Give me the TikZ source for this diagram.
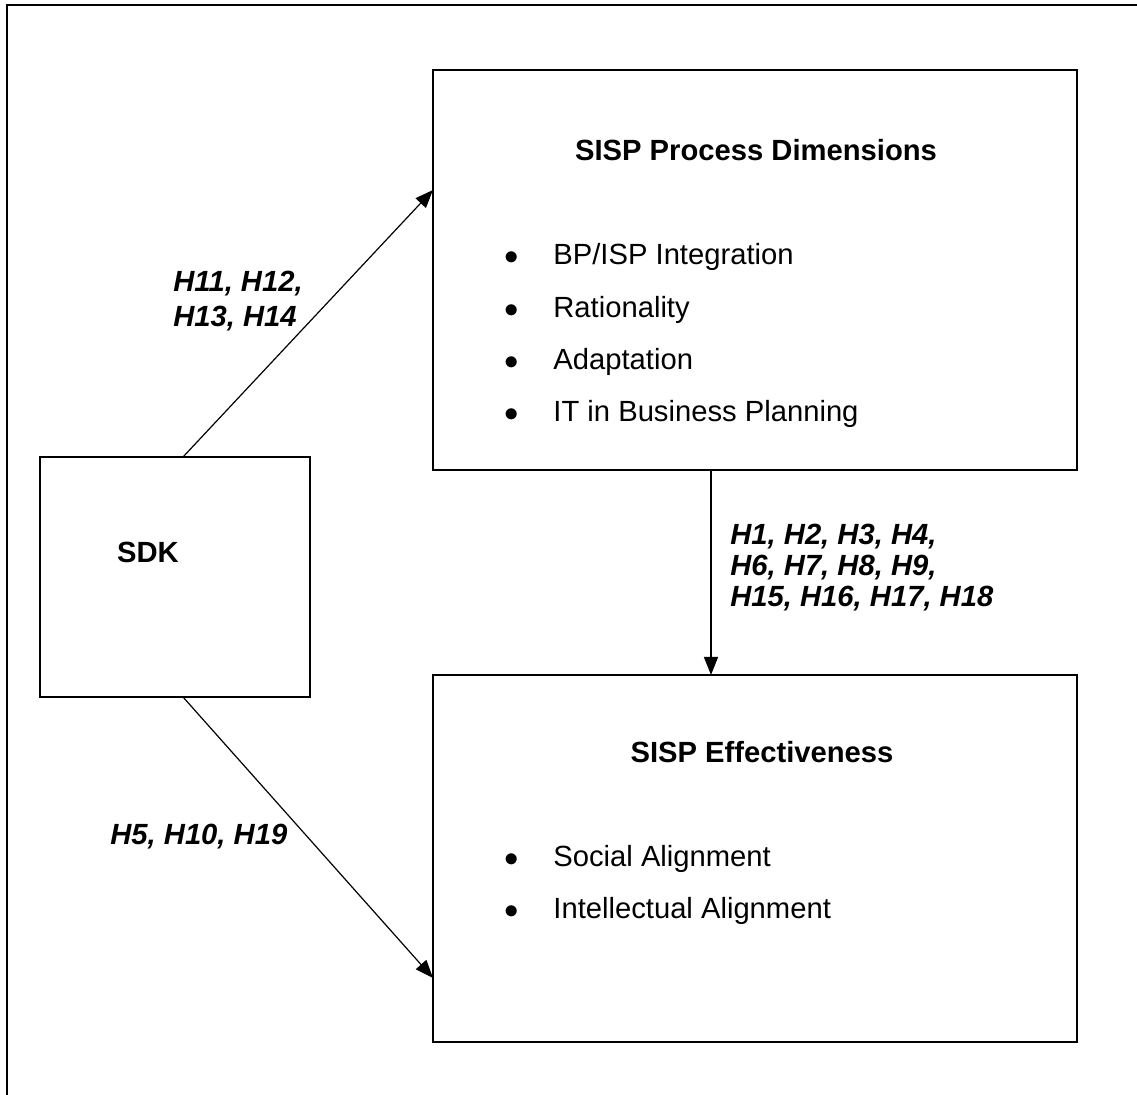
\documentclass[tikz,border=0pt]{standalone}
\usepackage{fontspec}
\setmainfont{Liberation Sans}
\usetikzlibrary{arrows.meta}
\tikzset{
  modelbox/.style={draw, line width=1pt, rectangle, inner sep=0pt},
  link/.style={line width=0.6pt, -{Triangle[length=9pt,width=7pt]}},
  txt/.style={anchor=base west, inner sep=0pt, font=\fontsize{14.6}{17}\selectfont},
  hyp/.style={txt, font=\fontsize{14.6}{17}\selectfont\bfseries\itshape},
  head/.style={anchor=base, inner sep=0pt, font=\fontsize{14.6}{17}\selectfont\bfseries},
  bul/.style={anchor=base, inner sep=0pt, font=\fontsize{14.6}{17}\selectfont}
}
\begin{document}
\begin{tikzpicture}[x=0.5pt,y=-0.5pt]
\useasboundingbox (0,0) rectangle (1137,1095);
% frame
\draw[line width=1pt] (7,1095) -- (7,5) -- (1137,5);
% boxes
\node[modelbox, minimum width=322pt, minimum height=200pt] (proc) at (755,270) {};
\node[modelbox, minimum width=322pt, minimum height=183.5pt] (eff) at (755,858.5) {};
\node[modelbox, minimum width=135pt, minimum height=120pt] (sdk) at (175,577) {};
% titles
\node[head] (procT) at (756,161) {SISP Process Dimensions};
\node[head] (effT) at (762,763) {SISP Effectiveness};
\node[head] (sdkT) at (148,563) {SDK};
% process items
\foreach \y/\item [count=\i] in {265/{BP/ISP Integration}, 318/Rationality, 370/Adaptation, 422/IT in Business Planning} {
  \node[bul] (pb\i) at (512,\y) {$\bullet$};
  \node[txt] (pi\i) at (553,\y) {\item};
}
% effectiveness items
\foreach \y/\item [count=\i] in {867/Social Alignment, 919/Intellectual Alignment} {
  \node[bul] (eb\i) at (512,\y) {$\bullet$};
  \node[txt] (ei\i) at (553,\y) {\item};
}
% connectors
\coordinate (sdkUp) at (183,457);
\coordinate (procIn) at (433,190);
\coordinate (sdkDn) at (183,697);
\coordinate (effIn) at (433,978);
\coordinate (procOut) at (711,470);
\coordinate (effTop) at (711,675);
\draw[link] (sdkUp) -- (procIn);
\draw[link] (sdkDn) -- (effIn);
\draw[link] (procOut) -- (effTop);
% hypotheses
\node[hyp] (h1a) at (173,292) {H11, H12,};
\node[hyp] (h1b) at (173,327) {H13, H14};
\node[hyp] (h2a) at (730,545) {H1, H2, H3, H4,};
\node[hyp] (h2b) at (730,576) {H6, H7, H8, H9,};
\node[hyp] (h2c) at (730,607) {H15, H16, H17, H18};
\node[hyp] (h3) at (110,845) {H5, H10, H19};
\end{tikzpicture}
\end{document}
